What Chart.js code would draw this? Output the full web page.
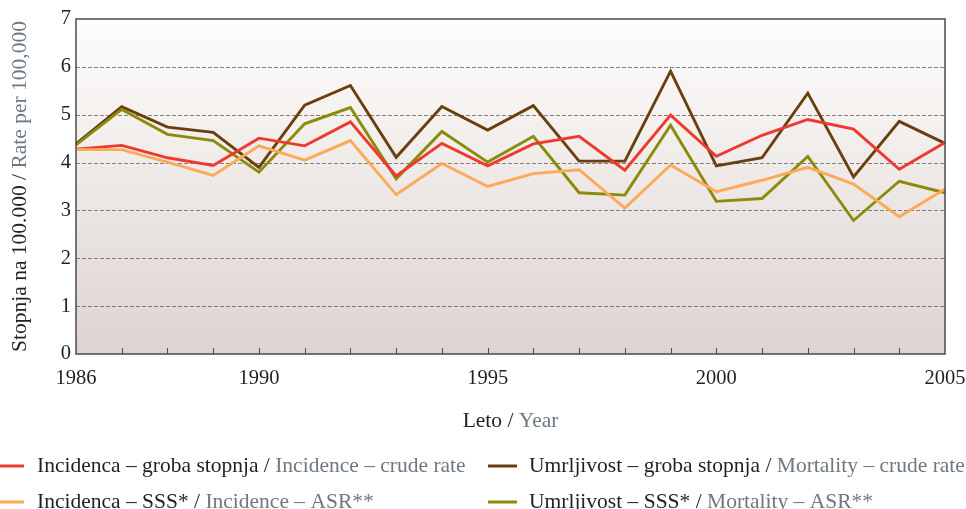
<!DOCTYPE html>
<html>
<head>
<meta charset="utf-8">
<script src="https://cdn.jsdelivr.net/npm/chart.js@4/dist/chart.umd.min.js"></script>
<style>
html,body{margin:0;padding:0;background:#fff;}
canvas{display:block;}
</style>
</head>
<body>
<canvas id="c" width="966" height="509"></canvas>
<script>
const years = ['1986','1987','1988','1989','1990','1991','1992','1993','1994','1995','1996','1997','1998','1999','2000','2001','2002','2003','2004','2005'];
const labeledYears = ['1986','1990','1995','2000','2005'];
const yTicks = [0,1,2,3,4,5,6,7];
const incidenceCrude = [4.28,4.36,4.10,3.94,4.51,4.35,4.85,3.72,4.40,3.93,4.39,4.55,3.84,4.99,4.13,4.57,4.90,4.70,3.86,4.42];
const incidenceASR   = [4.27,4.27,4.01,3.73,4.35,4.05,4.46,3.33,3.98,3.50,3.77,3.85,3.05,3.95,3.39,3.63,3.90,3.55,2.87,3.45];
const mortalityCrude = [4.39,5.17,4.74,4.63,3.90,5.20,5.61,4.11,5.17,4.68,5.19,4.03,4.03,5.91,3.93,4.10,5.45,3.70,4.86,4.40];
const mortalityASR   = [4.37,5.11,4.59,4.46,3.80,4.81,5.15,3.66,4.65,4.01,4.55,3.37,3.32,4.78,3.19,3.25,4.13,2.79,3.61,3.37];
const seriesNames = [
  ['Incidenca – groba stopnja / ','Incidence – crude rate'],
  ['Incidenca – SSS* / ','Incidence – ASR**'],
  ['Umrljivost – groba stopnja / ','Mortality – crude rate'],
  ['Umrljivost – SSS* / ','Mortality – ASR**']
];
const yTitle = ['Stopnja na 100.000 / ','Rate per 100,000'];
const xTitle = ['Leto / ','Year'];

const COLORS = ['#ee3a2e','#fbaa58','#6a3f10','#8b8a0b'];
const FONT = "'Liberation Serif', 'Times New Roman', serif";
const DARK = '#231f20';
const GREY = '#6c7883';

function drawTwo(ctx, x, y, a, b, align){
  const wa = ctx.measureText(a).width, wb = ctx.measureText(b).width;
  let sx = align === 'center' ? x - (wa+wb)/2 : x;
  ctx.textAlign = 'left';
  ctx.fillStyle = DARK; ctx.fillText(a, sx, y);
  ctx.fillStyle = GREY; ctx.fillText(b, sx+wa, y);
}

const decor = {
  id:'decor',
  beforeDraw(chart){
    const {ctx, chartArea:a} = chart;
    const g = ctx.createLinearGradient(0,a.top,0,a.bottom);
    g.addColorStop(0,'#fefdfc');
    g.addColorStop(1,'#ddd4d0');
    ctx.save(); ctx.fillStyle = g; ctx.fillRect(a.left,a.top,a.right-a.left,a.bottom-a.top); ctx.restore();
  },
  beforeDatasetsDraw(chart){
    const {ctx, chartArea:a, scales:{y}} = chart;
    ctx.save();
    ctx.strokeStyle = 'rgba(90,90,90,0.75)'; ctx.lineWidth = 1; ctx.setLineDash([4,2]);
    yTicks.forEach(v=>{
      if (v===0 || v===7) return;
      const py = Math.round(y.getPixelForValue(v))+0.5;
      ctx.beginPath(); ctx.moveTo(a.left,py); ctx.lineTo(a.right,py); ctx.stroke();
    });
    ctx.restore();
  },
  afterDatasetsDraw(chart){
    const {ctx, chartArea:a, scales:{x}} = chart;
    ctx.save();
    ctx.strokeStyle = '#4d4a4a'; ctx.lineWidth = 1.5;
    ctx.strokeRect(a.left,a.top,a.right-a.left,a.bottom-a.top);
    ctx.lineWidth = 1;
    years.forEach((yr,i)=>{
      if (i===0 || i===years.length-1) return;
      const px = Math.round(x.getPixelForValue(i))+0.5;
      ctx.beginPath(); ctx.moveTo(px,a.bottom); ctx.lineTo(px,a.bottom-6); ctx.stroke();
    });
    ctx.restore();
  },
  afterDraw(chart){
    const {ctx, chartArea:a} = chart;
    ctx.save();
    ctx.font = '21.5px ' + FONT;
    ctx.textBaseline = 'middle';
    drawTwo(ctx, (a.left+a.right)/2, 421, xTitle[0], xTitle[1], 'center');
    ctx.save();
    ctx.translate(20,(a.top+a.bottom)/2);
    ctx.rotate(-Math.PI/2);
    drawTwo(ctx, 0, 0, yTitle[0], yTitle[1], 'center');
    ctx.restore();
    const pos = [[0,466,37],[0,502,37],[488,466,529],[488,502,529]];
    [0,1,2,3].forEach(i=>{
      const [lx,ly,tx] = pos[i];
      ctx.strokeStyle = COLORS[i]; ctx.lineWidth = 3; ctx.setLineDash([]);
      ctx.beginPath(); ctx.moveTo(lx,ly); ctx.lineTo(lx+(i<2?24:29),ly); ctx.stroke();
      drawTwo(ctx, tx, ly, seriesNames[i][0], seriesNames[i][1], 'left');
    });
    ctx.restore();
  }
};

const mk = (data, i) => ({
  data, borderColor: COLORS[i], backgroundColor: COLORS[i], borderWidth: 2.9,
  pointRadius: 0, tension: 0, fill: false
});

new Chart(document.getElementById('c'), {
  type:'line',
  data:{ labels: years, datasets:[ mk(incidenceASR,1), mk(incidenceCrude,0), mk(mortalityASR,3), mk(mortalityCrude,2) ] },
  options:{
    responsive:false, animation:false, devicePixelRatio:1,
    layout:{padding:{left:0,right:21,top:19,bottom:0}},
    plugins:{legend:{display:false}, tooltip:{enabled:false}},
    scales:{
      x:{
        type:'category', offset:false,
        grid:{display:false, drawTicks:false}, border:{display:false},
        ticks:{autoSkip:false, maxRotation:0, minRotation:0, padding:12, color:DARK,
          font:{family:FONT, size:20.5},
          callback:(v,i)=> labeledYears.includes(years[i]) ? years[i] : ''},
        afterFit:s=>{ s.height = 155; s.paddingLeft = 0; s.paddingRight = 0; }
      },
      y:{
        min:0, max:7,
        grid:{display:false, drawTicks:false}, border:{display:false},
        ticks:{stepSize:1, padding:5, color:DARK, font:{family:FONT, size:20.5}},
        afterFit:s=>{ s.width = 76; }
      }
    }
  },
  plugins:[decor]
});
</script>
</body>
</html>
